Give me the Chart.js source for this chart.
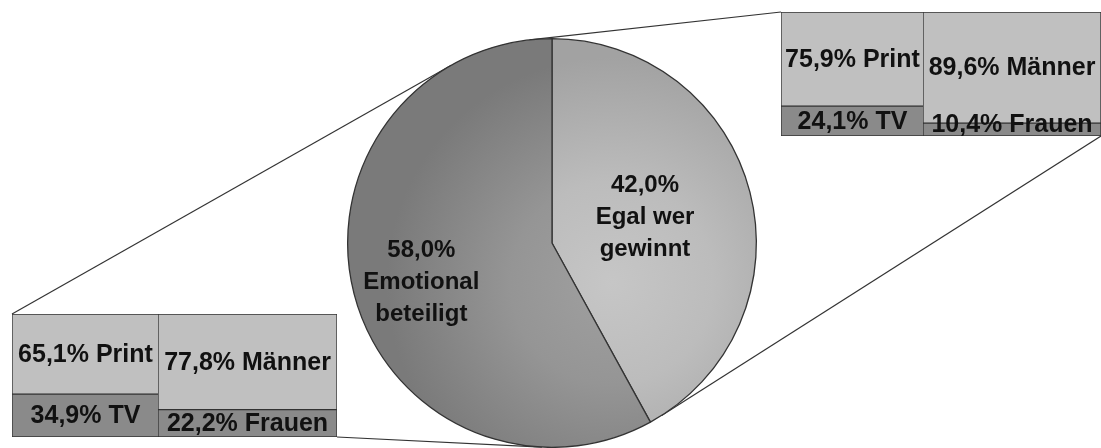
<!DOCTYPE html>
<html lang="de">
<head>
  <meta charset="UTF-8">
  <title>Emotional beteiligt vs. egal wer gewinnt</title>
  <script src="https://cdn.jsdelivr.net/npm/chart.js@4.4.1/dist/chart.umd.min.js"></script>
  <style>
    body { margin: 0; background: #fff; }
    #wrap { position: relative; width: 1101px; height: 448px; overflow: hidden; }
    canvas { position: absolute; }
    #pieChart { left: 0; top: 0; z-index: 1; }
    .box { z-index: 2; }
  </style>
</head>
<body>
  <div id="wrap">
    <canvas id="pieChart" width="1101" height="448"></canvas>
    <canvas id="egalMedium" class="box" width="143" height="124" style="left:781px; top:12px"></canvas>
    <canvas id="egalGender" class="box" width="178" height="124" style="left:923px; top:12px"></canvas>
    <canvas id="emoMedium" class="box" width="147" height="123" style="left:12px; top:314px"></canvas>
    <canvas id="emoGender" class="box" width="179" height="123" style="left:158px; top:314px"></canvas>
  </div>
  <script>
    // Hauptfrage
    const pieLabels = [['Egal wer', 'gewinnt'], ['Emotional', 'beteiligt']];
    const pieValues = [42.0, 58.0];

    // Aufteilung je Gruppe: Medium und Geschlecht
    const mediumLabels = ['TV', 'Print'];
    const genderLabels = ['Frauen', 'Männer'];
    const egalMedium = [24.1, 75.9];
    const egalGender = [10.4, 89.6];
    const emoMedium = [34.9, 65.1];
    const emoGender = [22.2, 77.8];

    const PIE_FONT = 'bold 24px "Liberation Sans", Arial, sans-serif';
    const BOX_FONT = 'bold 25px "Liberation Sans", Arial, sans-serif';
    const darkFill = '#8a8a8a';
    const lightFill = '#c0c0c0';
    const edge = '#333333';

    const fmt = v => v.toFixed(1).replace('.', ',') + '%';

    // text in the middle of each stacked segment, kept inside the box
    const segmentLabels = {
      id: 'segmentLabels',
      afterDatasetsDraw(chart) {
        const { ctx, chartArea } = chart;
        ctx.save();
        ctx.font = BOX_FONT;
        ctx.fillStyle = '#111';
        ctx.textAlign = 'center';
        ctx.textBaseline = 'middle';
        chart.data.datasets.forEach((ds, i) => {
          const bar = chart.getDatasetMeta(i).data[0];
          let y = (bar.y + bar.base) / 2;
          y = Math.max(chartArea.top + 14, Math.min(chartArea.bottom - 12, y));
          ctx.fillText(fmt(ds.data[0]) + ' ' + ds.label, bar.x, y + 1);
        });
        ctx.restore();
      }
    };

    function boxChart(id, names, values) {
      return new Chart(document.getElementById(id), {
        type: 'bar',
        data: {
          labels: [''],
          datasets: names.map((n, i) => ({
            label: n,
            data: [values[i]],
            backgroundColor: i === 0 ? darkFill : lightFill,
            borderColor: edge,
            borderWidth: 1,
            borderSkipped: false,
            barPercentage: 1,
            categoryPercentage: 1
          }))
        },
        options: {
          responsive: false,
          animation: false,
          events: [],
          layout: { padding: 0 },
          scales: {
            x: { stacked: true, display: false, offset: true },
            y: { stacked: true, display: false, min: 0, max: 100 }
          },
          plugins: { legend: { display: false }, tooltip: { enabled: false } }
        },
        plugins: [segmentLabels]
      });
    }

    const boxes = {
      egalMedium: boxChart('egalMedium', mediumLabels, egalMedium),
      egalGender: boxChart('egalGender', genderLabels, egalGender),
      emoMedium: boxChart('emoMedium', mediumLabels, emoMedium),
      emoGender: boxChart('emoGender', genderLabels, emoGender)
    };

    // page coordinates of a box chart's corner
    function corner(chart, side, vert) {
      const a = chart.chartArea, c = chart.canvas;
      return {
        x: c.offsetLeft + (side === 'left' ? a.left : a.right),
        y: c.offsetTop + (vert === 'top' ? a.top : a.bottom)
      };
    }

    // connector lines from the boxes, tangent to the pie
    const connectors = {
      id: 'connectors',
      beforeDatasetsDraw(chart) {
        const arc = chart.getDatasetMeta(0).data[0];
        const cx = arc.x, cy = arc.y, r = arc.outerRadius;
        const pts = [
          [corner(boxes.egalMedium, 'left', 'top'), 'top'],
          [corner(boxes.egalGender, 'right', 'bottom'), 'bottom'],
          [corner(boxes.emoMedium, 'left', 'top'), 'top'],
          [corner(boxes.emoGender, 'right', 'bottom'), 'bottom']
        ];
        const ctx = chart.ctx;
        ctx.save();
        ctx.strokeStyle = edge;
        ctx.lineWidth = 1.2;
        pts.forEach(([p, which]) => {
          const d = Math.hypot(p.x - cx, p.y - cy);
          const base = Math.atan2(p.y - cy, p.x - cx);
          const delta = Math.acos(r / d);
          const t1 = { x: cx + r * Math.cos(base + delta), y: cy + r * Math.sin(base + delta) };
          const t2 = { x: cx + r * Math.cos(base - delta), y: cy + r * Math.sin(base - delta) };
          const t = which === 'top' ? (t1.y < t2.y ? t1 : t2) : (t1.y > t2.y ? t1 : t2);
          ctx.beginPath();
          ctx.moveTo(p.x, p.y);
          ctx.lineTo(t.x, t.y);
          ctx.stroke();
        });
        ctx.restore();
      }
    };

    // value and name inside each slice
    const sliceLabels = {
      id: 'sliceLabels',
      afterDatasetsDraw(chart) {
        const ctx = chart.ctx;
        const reach = [0.47, 0.66];
        const nudge = [-2, 6];
        ctx.save();
        ctx.font = PIE_FONT;
        ctx.fillStyle = '#111';
        ctx.textAlign = 'center';
        ctx.textBaseline = 'middle';
        chart.getDatasetMeta(0).data.forEach((arc, i) => {
          const mid = (arc.startAngle + arc.endAngle) / 2;
          const x = arc.x + Math.cos(mid) * arc.outerRadius * reach[i];
          const y = arc.y + Math.sin(mid) * arc.outerRadius * reach[i] + nudge[i];
          const lines = [fmt(pieValues[i])].concat(pieLabels[i]);
          lines.forEach((t, k) => ctx.fillText(t, x, y + (k - (lines.length - 1) / 2) * 32));
        });
        ctx.restore();
      }
    };

    // soft radial shading on the slices
    const sliceStops = [
      [[0, '#c6c6c6'], [0.45, '#bcbcbc'], [1, '#a2a2a2']],
      [[0, '#a0a0a0'], [0.45, '#959595'], [1, '#7a7a7a']]
    ];
    function shade(context) {
      const { chart, dataIndex } = context;
      const stops = sliceStops[dataIndex];
      const a = chart.chartArea;
      if (!a) return stops[1][1];
      const cx = (a.left + a.right) / 2, cy = (a.top + a.bottom) / 2;
      const r = Math.min(a.right - a.left, a.bottom - a.top) / 2;
      const g = chart.ctx.createRadialGradient(cx + 60, cy + 40, 0, cx + 60, cy + 40, r * 1.1);
      stops.forEach(([o, c]) => g.addColorStop(o, c));
      return g;
    }

    new Chart(document.getElementById('pieChart'), {
      type: 'pie',
      data: {
        labels: pieLabels,
        datasets: [{
          data: pieValues,
          backgroundColor: shade,
          borderColor: edge,
          borderWidth: 1.3
        }]
      },
      options: {
        responsive: false,
        animation: false,
        events: [],
        layout: { padding: { left: 347, right: 344, top: 38, bottom: 0 } },
        plugins: { legend: { display: false }, tooltip: { enabled: false } }
      },
      plugins: [connectors, sliceLabels]
    });
  </script>
</body>
</html>
